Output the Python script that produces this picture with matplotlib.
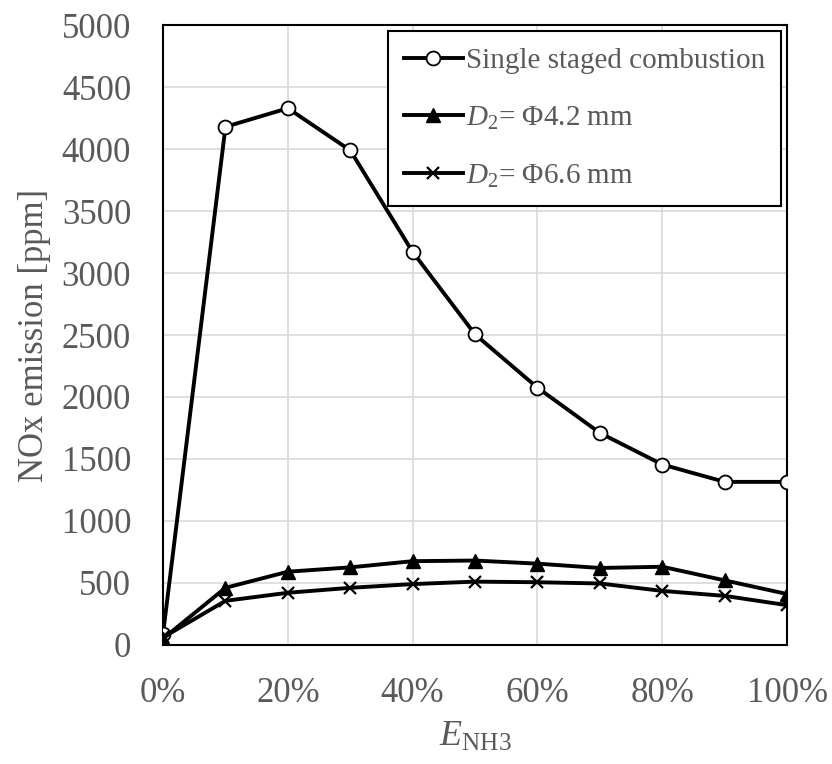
import matplotlib
matplotlib.use('Agg')
import matplotlib.pyplot as plt
from matplotlib.ticker import PercentFormatter

plt.rcParams['font.family'] = ['Liberation Serif', 'DejaVu Serif']
plt.rcParams['mathtext.fontset'] = 'custom'
plt.rcParams['mathtext.rm'] = 'Liberation Serif'
plt.rcParams['mathtext.it'] = 'Liberation Serif:italic'

# ammonia energy fraction (%) and NOx emission (ppm)
e_nh3 = [0, 10, 20, 30, 40, 50, 60, 70, 80, 90, 100]
single_staged = [90, 4180, 4330, 3990, 3170, 2505, 2075, 1710, 1455, 1315, 1315]
d2_4p2 = [50, 460, 590, 625, 675, 680, 655, 620, 630, 520, 410]
d2_6p6 = [60, 355, 420, 460, 490, 510, 505, 495, 435, 395, 320]

labels = ['Single staged combustion', r'$D_2$= Φ4.2 mm', r'$D_2$= Φ6.6 mm']
text_grey = '#595959'

fig = plt.figure(figsize=(8.32, 7.64), dpi=100)
ax = fig.add_axes([0.196, 0.156, 0.75, 0.811])

ax.plot(e_nh3, single_staged, color='black', lw=2.8, marker='o', ms=10,
        mfc='white', mec='black', mew=1.3, label=labels[0], zorder=3)
ax.plot(e_nh3, d2_4p2, color='black', lw=2.8, marker='^', ms=10,
        mfc='black', mec='black', label=labels[1], zorder=3)
ax.plot(e_nh3, d2_6p6, color='black', lw=2.8, marker='x', ms=8,
        mew=1.6, mec='black', label=labels[2], zorder=3)

ax.set_xlim(0, 100)
ax.set_ylim(0, 5000)
ax.set_xticks(range(0, 101, 20))
ax.set_yticks(range(0, 5001, 500))
ax.xaxis.set_major_formatter(PercentFormatter(decimals=0))
ax.grid(True, color='#d9d9d9', lw=1.2)
ax.set_axisbelow(True)
ax.tick_params(length=0, labelsize=25, labelcolor=text_grey)
ax.tick_params(axis='x', pad=23)
ax.tick_params(axis='y', pad=23)

for side in ax.spines.values():
    side.set_color('black')
    side.set_linewidth(1.5)

ax.set_xlabel(r'$E_{\mathrm{NH3}}$', fontsize=26, color=text_grey, labelpad=8)
ax.set_ylabel('NOx emission [ppm]', fontsize=25, color=text_grey, labelpad=8)

leg = ax.legend(loc='upper right', bbox_to_anchor=(0.99, 0.99), fontsize=21,
                frameon=True, fancybox=False, edgecolor='black', framealpha=1,
                handlelength=2.0, handletextpad=0.1, labelspacing=1.05,
                borderpad=0.55, borderaxespad=0)
leg.get_frame().set_linewidth(1.5)
for t in leg.get_texts():
    t.set_color(text_grey)

fig.savefig('out.png', dpi=100)
